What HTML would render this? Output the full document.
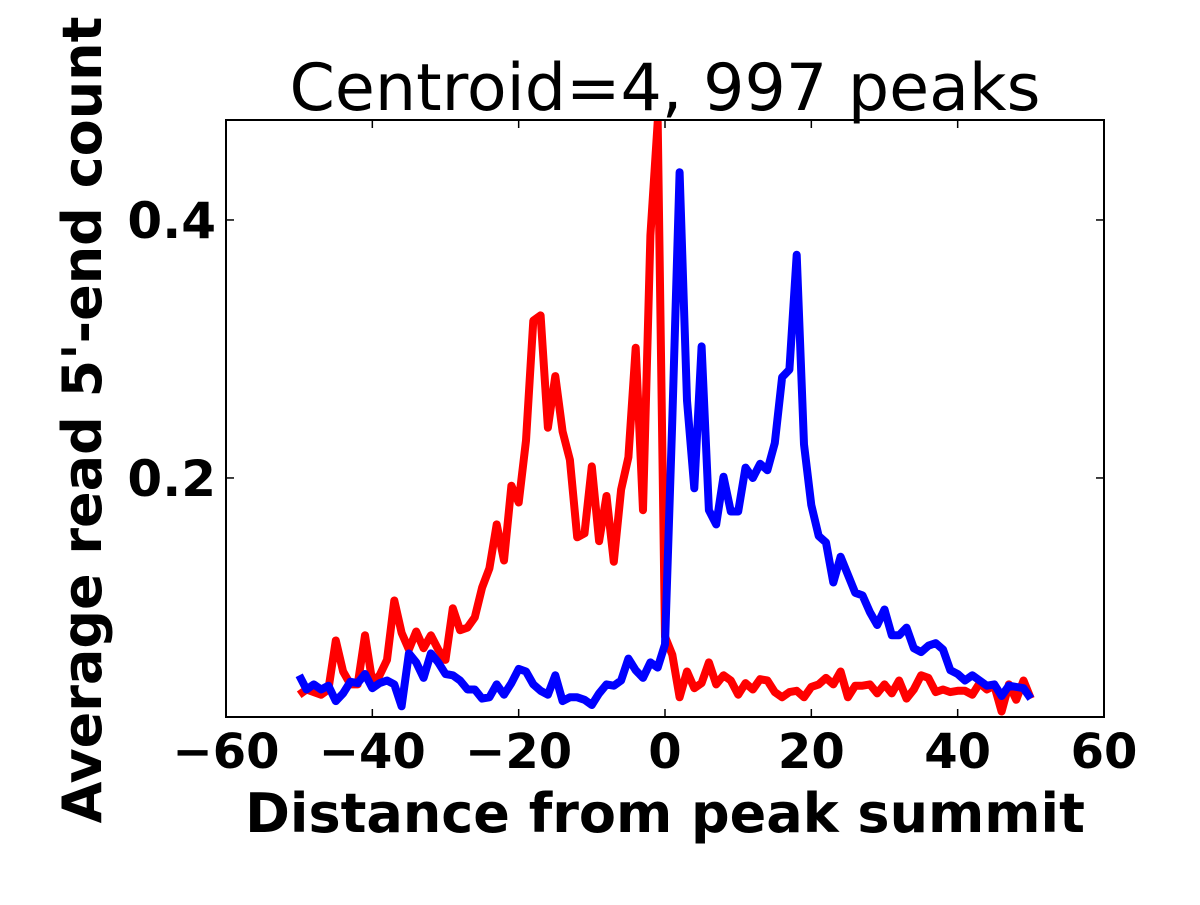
<!DOCTYPE html>
<html><head><meta charset="utf-8"><style>
body{margin:0;background:#fff;}
svg text{font-family:"DejaVu Sans","Liberation Sans",sans-serif;}
</style></head><body>
<svg id="chart" width="1200" height="900" viewBox="0 0 1200 900">
<defs><clipPath id="clip"><rect x="226" y="120" width="878" height="597"/></clipPath></defs>
<text x="665" y="110" text-anchor="middle" font-size="65">Centroid=4, 997 peaks</text>
<g id="series" clip-path="url(#clip)"></g>
<rect x="226" y="120" width="878" height="597" fill="none" stroke="#000" stroke-width="2"/>
<g id="axes"></g>
<text x="665" y="832" text-anchor="middle" font-size="54" font-weight="bold">Distance from peak summit</text>
<text transform="translate(101,420) rotate(-90)" text-anchor="middle" font-size="54" font-weight="bold">Average read 5'-end count</text>
</svg>
<script>
const xTicks=[-60,-40,-20,0,20,40,60];
const yTicks=[0.2,0.4];
const yTickLabels=["0.2","0.4"];
const positions=[];for(let i=-50;i<=50;i++)positions.push(i);
const redValues=[0.032,0.036,0.034,0.032,0.036,0.074,0.050,0.040,0.040,0.078,0.042,0.047,0.059,0.105,0.080,0.067,0.081,0.068,0.078,0.067,0.059,0.099,0.082,0.084,0.092,0.115,0.130,0.164,0.136,0.194,0.181,0.229,0.322,0.326,0.239,0.279,0.236,0.214,0.154,0.157,0.209,0.151,0.186,0.135,0.191,0.216,0.301,0.175,0.388,0.476,
0.077,0.063,0.030,0.050,0.037,0.041,0.057,0.040,0.047,0.043,0.032,0.041,0.036,0.044,0.043,0.034,0.030,0.034,0.035,0.030,0.038,0.040,0.045,0.040,0.050,0.030,0.039,0.039,0.040,0.033,0.040,0.033,0.043,0.029,0.036,0.047,0.045,0.034,0.036,0.034,0.035,0.035,0.032,0.041,0.036,0.039,0.019,0.040,0.028,0.043,0.029];
const blueValues=[0.047,0.036,0.040,0.036,0.039,0.027,0.033,0.042,0.041,0.048,0.037,0.041,0.043,0.040,0.023,0.064,0.057,0.045,0.064,0.057,0.048,0.047,0.043,0.036,0.036,0.029,0.030,0.040,0.032,0.041,0.052,0.050,0.040,0.035,0.032,0.047,0.027,0.030,0.030,0.028,0.024,0.033,0.040,0.039,0.043,0.060,0.051,0.045,0.057,0.053,
0.071,0.245,0.437,0.260,0.192,0.302,0.175,0.164,0.201,0.174,0.174,0.208,0.200,0.211,0.206,0.227,0.278,0.284,0.373,0.226,0.179,0.155,0.150,0.119,0.139,0.125,0.111,0.109,0.096,0.086,0.098,0.078,0.078,0.084,0.068,0.065,0.070,0.072,0.067,0.051,0.048,0.043,0.047,0.043,0.039,0.040,0.031,0.039,0.038,0.037,0.029];
const X0=226,X1=1104,Y0=717,Y1=120,XMIN=-60,XMAX=60,YMIN=0.0147,YMAX=0.4775;
const xs=v=>X0+(v-XMIN)/(XMAX-XMIN)*(X1-X0);
const ys=v=>Y0-(v-YMIN)/(YMAX-YMIN)*(Y0-Y1);
const NS="http://www.w3.org/2000/svg";
const ax=document.getElementById('axes');
xTicks.forEach(t=>{
  const x=xs(t);
  [[Y0,Y0-8],[Y1,Y1+8]].forEach(p=>{const l=document.createElementNS(NS,'line');
  l.setAttribute('x1',x);l.setAttribute('x2',x);l.setAttribute('y1',p[0]);l.setAttribute('y2',p[1]);l.setAttribute('stroke','#000');l.setAttribute('stroke-width','1.5');
  
  
  ax.appendChild(l);});
  const tx=document.createElementNS(NS,'text');
  tx.setAttribute('x',x);tx.setAttribute('y',Y0+51);tx.setAttribute('text-anchor','middle');tx.setAttribute('font-size','48');tx.setAttribute('font-weight','bold');
  tx.textContent=(t<0?'\u2212'+(-t):String(t));
  
  
  ax.appendChild(tx);
});
yTicks.forEach((t,i)=>{
  const y=ys(t);
  [[X0,X0+8],[X1,X1-8]].forEach(p=>{const l=document.createElementNS(NS,'line');
  l.setAttribute('x1',p[0]);l.setAttribute('x2',p[1]);l.setAttribute('y1',y);l.setAttribute('y2',y);l.setAttribute('stroke','#000');l.setAttribute('stroke-width','1.5');
  
  
  ax.appendChild(l);});
  const tx=document.createElementNS(NS,'text');
  tx.setAttribute('x',X0-10);tx.setAttribute('y',y+18);tx.setAttribute('text-anchor','end');tx.setAttribute('font-size','50');tx.setAttribute('font-weight','bold');
  tx.textContent=yTickLabels[i];
  
  
  ax.appendChild(tx);
});
const sg=document.getElementById('series');
function line(vals,color,name){
  const p=document.createElementNS(NS,'polyline');
  p.setAttribute('points',vals.map((v,i)=>xs(positions[i]).toFixed(1)+','+ys(v).toFixed(1)).join(' '));
  p.setAttribute('fill','none');p.setAttribute('stroke',color);p.setAttribute('stroke-width','8');p.setAttribute('stroke-linejoin','round');
  
  
  sg.appendChild(p);
}
line(redValues,'#ff0000','red-series-line');
line(blueValues,'#0000ff','blue-series-line');
</script>
</body></html>
